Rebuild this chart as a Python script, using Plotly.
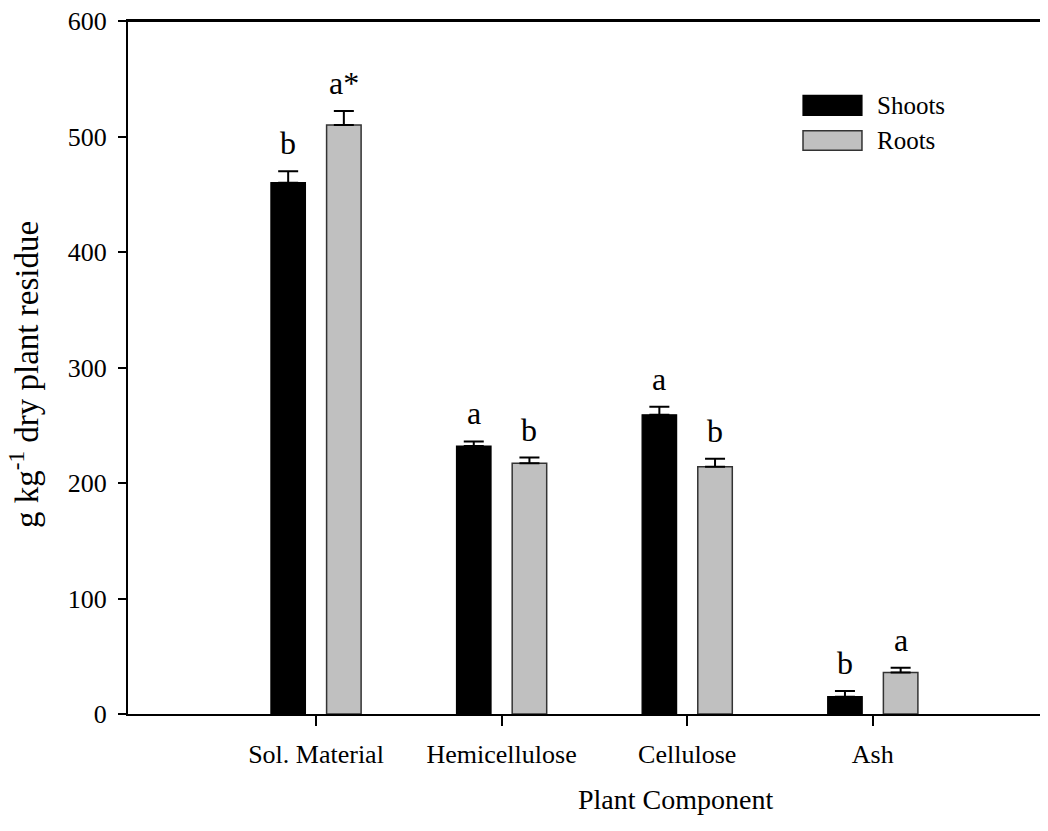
import plotly.graph_objects as go

categories = ["Sol. Material", "Hemicellulose", "Cellulose", "Ash"]
shoots = [460, 232, 259, 15]
roots = [510, 217, 214, 36]
shoots_err = [10, 4, 7, 5]
roots_err = [12, 5, 7, 4]
shoots_letters = ["b", "a", "a", "b"]
roots_letters = ["a*", "b", "b", "a"]
y_ticks = [0, 100, 200, 300, 400, 500, 600]

FONT = "Liberation Serif, Times New Roman, serif"
positions = [i + 1 for i in range(len(categories))]
offset = 0.15
bar_w = 0.186

xs_sh = [p - offset for p in positions]
xs_ro = [p + offset for p in positions]

fig = go.Figure()
fig.add_trace(go.Bar(
    x=xs_sh, y=shoots, width=bar_w, name="Shoots",
    marker=dict(color="black", line=dict(color="black", width=1.2)),
    error_y=dict(type="data", array=shoots_err, arrayminus=[0]*4, symmetric=False,
                 color="black", thickness=2, width=10),
    showlegend=False,
))
fig.add_trace(go.Bar(
    x=xs_ro, y=roots, width=bar_w, name="Roots",
    marker=dict(color="#c0c0c0", line=dict(color="#333333", width=1.5)),
    error_y=dict(type="data", array=roots_err, arrayminus=[0]*4, symmetric=False,
                 color="black", thickness=2, width=10),
    showlegend=False,
))

for x, v, e, t in zip(xs_sh, shoots, shoots_err, shoots_letters):
    fig.add_annotation(x=x, y=v + e, text=t, showarrow=False, yanchor="bottom",
                       yshift=8, font=dict(family=FONT, size=32, color="black"))
for x, v, e, t in zip(xs_ro, roots, roots_err, roots_letters):
    fig.add_annotation(x=x, y=v + e, text=t, showarrow=False, yanchor="bottom",
                       yshift=8, font=dict(family=FONT, size=32, color="black"))

# Top frame line
fig.add_shape(type="line", xref="paper", yref="paper", x0=0, x1=1, y0=1, y1=1,
              line=dict(color="black", width=2))

# Legend drawn manually (wide rectangular keys)
fig.add_shape(type="rect", xref="paper", yref="paper", x0=0.7337, x1=0.7978,
              y0=0.8639, y1=0.8928, fillcolor="black", line=dict(color="black", width=1.2))
fig.add_shape(type="rect", xref="paper", yref="paper", x0=0.7337, x1=0.7978,
              y0=0.8134, y1=0.8418, fillcolor="#c0c0c0", line=dict(color="#333333", width=1.5))
fig.add_annotation(xref="paper", yref="paper", x=0.812, y=0.8784, text="Shoots",
                   showarrow=False, xanchor="left", yanchor="middle",
                   font=dict(family=FONT, size=25, color="black"))
fig.add_annotation(xref="paper", yref="paper", x=0.812, y=0.828, text="Roots",
                   showarrow=False, xanchor="left", yanchor="middle",
                   font=dict(family=FONT, size=25, color="black"))

# Axis titles as annotations
fig.add_annotation(xref="paper", yref="paper", x=0.5946, y=-0.124, text="Plant Component",
                   showarrow=False, xanchor="center", yanchor="middle",
                   font=dict(family=FONT, size=28, color="black"))
fig.add_annotation(xref="paper", yref="paper", x=-0.1125, y=0.49,
                   text="g kg<sup>-1</sup> dry plant residue", textangle=-90,
                   showarrow=False, xanchor="center", yanchor="middle",
                   font=dict(family=FONT, size=33, color="black"))

fig.update_layout(
    width=1040, height=823,
    margin=dict(l=120, r=0, t=13, b=117),
    plot_bgcolor="white", paper_bgcolor="white",
    barmode="overlay",
    font=dict(family=FONT, color="black"),
    xaxis=dict(
        range=[-0.013, 4.944], tickmode="array", tickvals=positions, ticktext=categories,
        showline=True, linecolor="black", linewidth=2, mirror=True,
        ticks="outside", ticklen=10, tickwidth=2, tickcolor="black",
        ticklabelstandoff=6,
        showgrid=False, zeroline=False,
        tickfont=dict(family=FONT, size=26, color="black"),
    ),
    yaxis=dict(
        range=[0, 600], tickmode="array", tickvals=y_ticks,
        showline=True, linecolor="black", linewidth=2,
        ticks="outside", ticklen=8, tickwidth=2, tickcolor="black",
        ticklabelstandoff=6, ticklabeloverflow="allow",
        showgrid=False, zeroline=False,
        tickfont=dict(family=FONT, size=26, color="black"),
    ),
)

fig.write_html("out.html")
